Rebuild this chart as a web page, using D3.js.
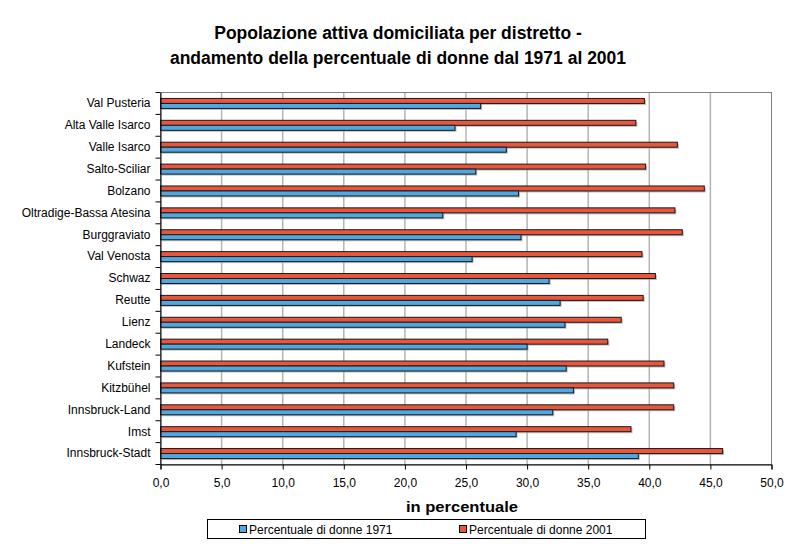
<!DOCTYPE html>
<html><head><meta charset="utf-8">
<script src="https://cdn.jsdelivr.net/npm/d3@7"></script>
<style>body{margin:0;background:#fff}svg{font-family:"Liberation Sans",Arial,sans-serif}</style>
</head><body>
<svg id="c" width="800" height="554"></svg>
<script>
const categories = ["Val Pusteria","Alta Valle Isarco","Valle Isarco","Salto-Sciliar","Bolzano","Oltradige-Bassa Atesina","Burggraviato","Val Venosta","Schwaz","Reutte","Lienz","Landeck","Kufstein","Kitzbühel","Innsbruck-Land","Imst","Innsbruck-Stadt"];
const values1971 = [26.2,24.1,28.3,25.8,29.3,23.1,29.5,25.5,31.8,32.7,33.1,30.0,33.2,33.8,32.1,29.1,39.1];
const values2001 = [39.6,38.9,42.3,39.7,44.5,42.1,42.7,39.4,40.5,39.5,37.7,36.6,41.2,42.0,42.0,38.5,46.0];
const xTicks = [0,5,10,15,20,25,30,35,40,45,50];
const seriesNames = ["Percentuale di donne 1971","Percentuale di donne 2001"];
const colors = ["#4fa8e0","#e8563c"];

const svg = d3.select("#c");
const L=160.5, R=771.5, T=92.5, B=464.5;
const x = d3.scaleLinear().domain([0,50]).range([L,R]);
const y = d3.scaleBand().domain(categories).range([T,B]);

// gridlines
svg.append("g").selectAll("line").data(xTicks.slice(1,-1)).join("line")
  .attr("x1",d=>x(d)).attr("x2",d=>x(d)).attr("y1",T).attr("y2",B)
  .attr("stroke","#b4b4b4").attr("stroke-width",1.5);
// plot border
svg.append("rect").attr("x",L).attr("y",T).attr("width",R-L).attr("height",B-T)
  .attr("fill","none").attr("stroke","#808080").attr("stroke-width",1);

const bh = 5;
const g = svg.append("g");
categories.forEach((c,i)=>{
  const cy = y(c)+y.bandwidth()/2;
  const bars = [{v:values2001[i],y:cy-bh,col:colors[1]},{v:values1971[i],y:cy,col:colors[0]}];
  bars.forEach(b=>{
    g.append("rect").attr("x",x(0)+1.5).attr("y",b.y+1.5).attr("width",x(b.v)-x(0)).attr("height",bh)
      .attr("fill","#a0a0a0").attr("opacity",0.7);
  });
  bars.forEach(b=>{
    g.append("rect").attr("x",x(0)).attr("y",b.y).attr("width",x(b.v)-x(0)).attr("height",bh)
      .attr("fill",b.col).attr("stroke","#1a1a1a").attr("stroke-width",1);
  });
});

// x axis
const xa = svg.append("g").attr("transform",`translate(0,${B})`)
  .call(d3.axisBottom(x).tickValues(xTicks).tickSize(5).tickFormat(d=>d3.format(".1f")(d).replace(".",",")));
xa.select(".domain").attr("stroke","#000");
xa.selectAll("text").attr("font-size","12px").attr("fill","#000").attr("dy","1.2em").attr("font-family","Liberation Sans, Arial, sans-serif");
// y axis
const ya = svg.append("g").attr("transform",`translate(${L},0)`)
  .call(d3.axisLeft(y).tickSize(0).tickPadding(10));
ya.select(".domain").attr("stroke","#000");
ya.selectAll("text").attr("font-size","12px").attr("fill","#000").attr("font-family","Liberation Sans, Arial, sans-serif");
svg.append("g").selectAll("line").data(d3.range(categories.length+1)).join("line")
  .attr("x1",L-5).attr("x2",L).attr("y1",i=>T+i*y.step()).attr("y2",i=>T+i*y.step()).attr("stroke","#000");

// title
svg.append("text").attr("x",398).attr("y",39).attr("text-anchor","middle").attr("font-size","17.5px").attr("font-weight","bold").text("Popolazione attiva domiciliata per distretto -");
svg.append("text").attr("x",398).attr("y",64).attr("text-anchor","middle").attr("font-size","17.5px").attr("font-weight","bold").text("andamento della percentuale di donne dal 1971 al 2001");
svg.append("text").attr("x",406).attr("y",512).attr("font-size","15px").attr("font-weight","bold")
  .attr("textLength",112).attr("lengthAdjust","spacingAndGlyphs").text("in percentuale");

// legend
svg.append("rect").attr("x",207.5).attr("y",519.5).attr("width",438).attr("height",19).attr("fill","#fff").attr("stroke","#000");
[[239,249],[459,469]].forEach((p,i)=>{
  svg.append("rect").attr("x",p[0]+0.5).attr("y",525.5).attr("width",7).attr("height",7).attr("fill",colors[i]).attr("stroke","#000");
  svg.append("text").attr("x",p[1]).attr("y",533.5).attr("font-size","12px").text(seriesNames[i]);
});
</script>
</body></html>
